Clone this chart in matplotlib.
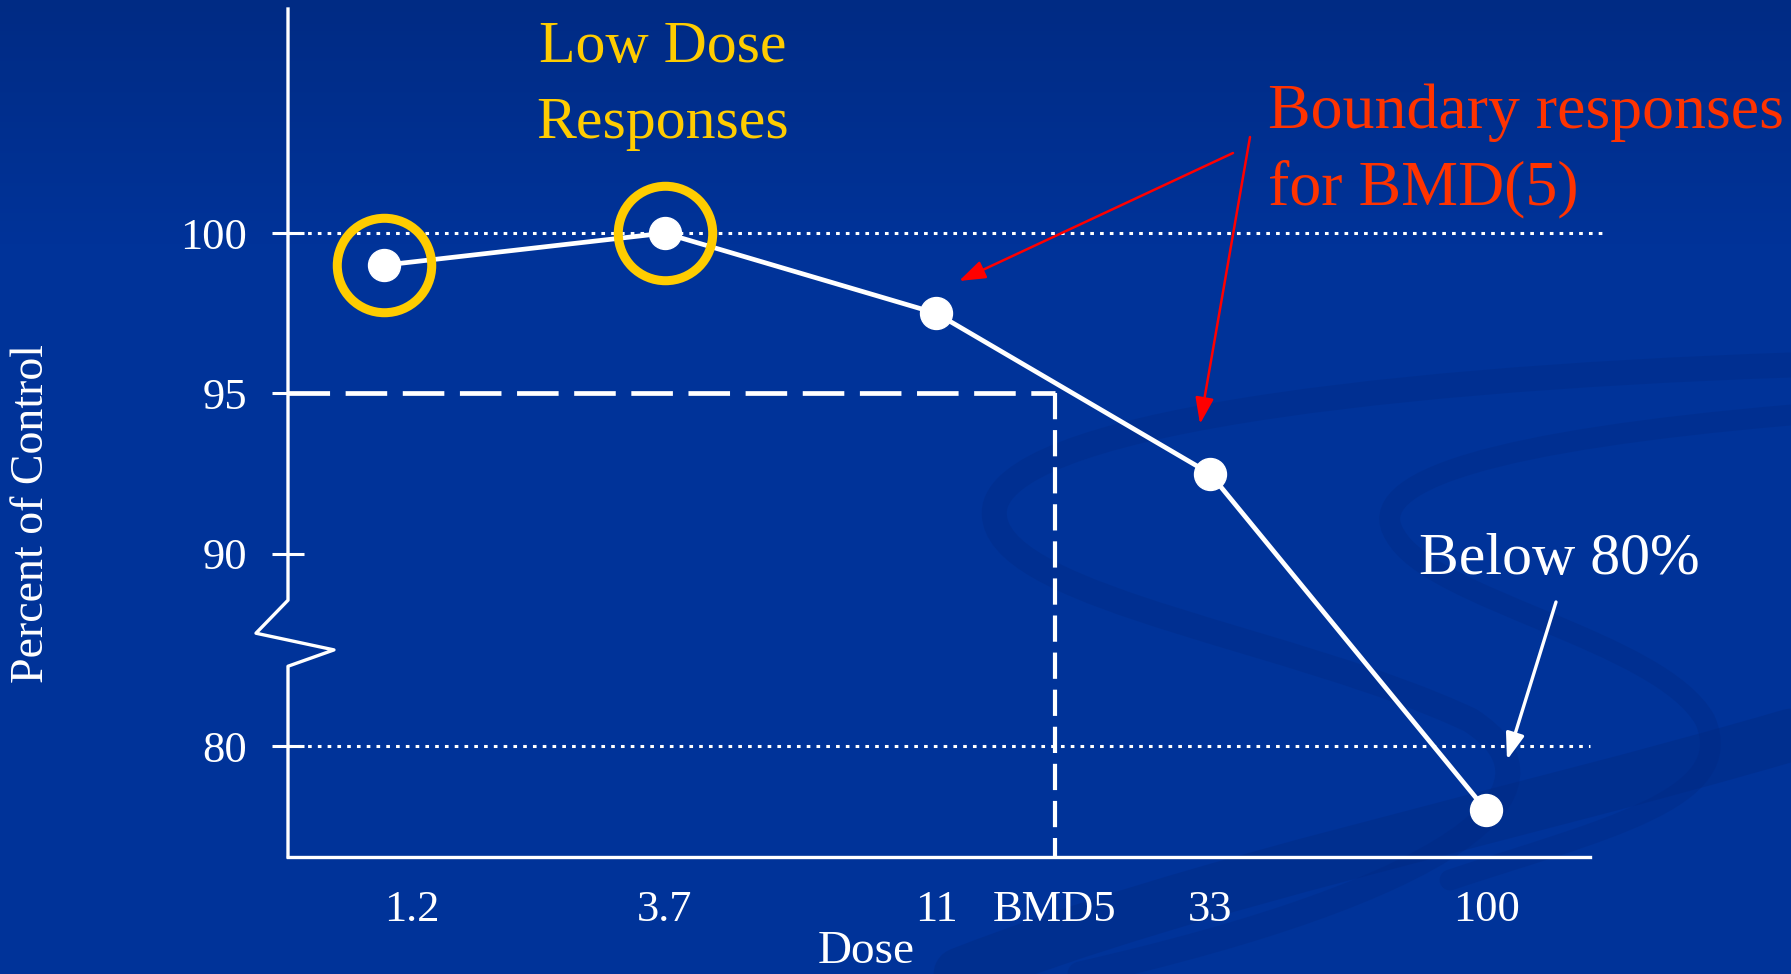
import numpy as np
import matplotlib
matplotlib.use('Agg')
import matplotlib.pyplot as plt
from matplotlib.path import Path
from matplotlib.patches import PathPatch
from matplotlib.transforms import blended_transform_factory, ScaledTranslation

# dose-response data (percent of control)
doses = [1.2, 3.7, 11, 33, 100]
dose_labels = ['1.2', '3.7', '11', '33', '100']
response = [99.0, 100.0, 97.5, 92.5, 78.0]
low_dose_idx = [0, 1]
bmd5 = 17.7
bmr_level = 95
y_ticks = [100, 95, 90, 80]
ref_lines = [100, 80]

# y axis is broken between 80 and 90: values below the break are drawn 4 units higher
BREAK_AT = 87.0
BREAK_SHIFT = 4.0


def to_axis(v):
    v = np.asarray(v, dtype=float)
    return np.where(v < BREAK_AT, v + BREAK_SHIFT, v)


W, H = 1791, 974
BG = '#003399'
SERIF = ['Liberation Serif', 'DejaVu Serif']
plt.rcParams['font.family'] = SERIF

fig = plt.figure(figsize=(W / 100, H / 100), dpi=100)

# background: slight gradient plus dark swooshes
bg = fig.add_axes([0, 0, 1, 1], zorder=0)
bg.set_xlim(0, W)
bg.set_ylim(H, 0)
bg.axis('off')
top = np.array([0x00, 0x2b, 0x84]) / 255
base = np.array([0x00, 0x33, 0x99]) / 255
t = np.clip(np.linspace(0, 1, H) / 0.25, 0, 1)[:, None]
grad = top[None, :] * (1 - t) + base[None, :] * t
bg.imshow(np.repeat(grad[:, None, :], 4, axis=1), extent=[0, W, H, 0], aspect='auto')

swooshes = [
    ([(1791, 365), (1350, 380), (975, 430), (995, 520),
      (1010, 600), (1300, 640), (1470, 720),
      (1580, 790), (1450, 890), (1080, 974)], 18, 0.3),
    ([(1791, 415), (1500, 440), (1360, 480), (1395, 535),
      (1430, 600), (1660, 640), (1705, 720),
      (1740, 800), (1600, 830), (1450, 880)], 15, 0.3),
    ([(960, 974), (1200, 880), (1500, 820), (1791, 735)], 38, 0.35),
]
for pts, lw, alpha in swooshes:
    codes = [Path.MOVETO] + [Path.CURVE4] * (len(pts) - 1)
    bg.add_patch(PathPatch(Path(pts, codes), fill=False, edgecolor='#00287f',
                           lw=lw, alpha=alpha, capstyle='round'))

ax = fig.add_axes([288 / W, 1 - 857 / H, (1590 - 288) / W, (857 - 9) / H], zorder=1)
ax.set_facecolor('none')
ax.set_xscale('log')
ax.set_xlim(0.816, 151.7)
ax.set_ylim(80.54, 106.99)
ax.minorticks_off()

for s in ['top', 'right', 'left']:
    ax.spines[s].set_visible(False)
ax.spines['bottom'].set_color('white')
ax.spines['bottom'].set_linewidth(2.4)

# y axis with a zigzag break
tb = blended_transform_factory(ax.transAxes, ax.transData)
ylo, yhi = ax.get_ylim()
ax.plot([0, 0, -0.0246, 0.0353, 0, 0],
        [yhi, 88.55, 87.52, 87.0, 86.49, ylo],
        color='white', lw=2.4, transform=tb, clip_on=False, zorder=3)

ax.set_yticks(to_axis(y_ticks))
ax.set_yticklabels([str(v) for v in y_ticks])
ax.tick_params(axis='y', direction='inout', length=23, width=2.2, colors='white',
               labelsize=32, pad=18)
ax.set_xticks(doses + [bmd5])
ax.set_xticklabels(dose_labels + ['BMD5'])
ax.tick_params(axis='x', length=0, colors='white', labelsize=32, pad=24)
# first dose label sits a little right of its point
lab0 = ax.xaxis.get_major_ticks()[0].label1
lab0.set_transform(lab0.get_transform() + ScaledTranslation(0.28, 0, fig.dpi_scale_trans))

# reference lines at 100% and 80%
ax.axhline(to_axis(ref_lines[0]), xmin=0, xmax=1.012, color='white', lw=2.2,
           dashes=(1.2, 2.0), clip_on=False, zorder=2)
ax.axhline(to_axis(ref_lines[1]), xmin=0, xmax=1.0, color='white', lw=2.2,
           dashes=(1.2, 2.0), clip_on=False, zorder=2)

# BMD5 construction lines
xlo = ax.get_xlim()[0]
ax.plot([xlo, bmd5], [bmr_level, bmr_level], color='white', lw=3.4,
        dashes=(8.8, 3.3), zorder=2)
ax.plot([bmd5, bmd5], [bmr_level, ylo], color='white', lw=3.0,
        dashes=(6.3, 2.6), zorder=2, clip_on=False)

# response curve
ax.plot(doses, to_axis(response), color='white', lw=3.4, marker='o', ms=23,
        mfc='white', mec='white', zorder=4)
ax.plot([doses[i] for i in low_dose_idx], to_axis([response[i] for i in low_dose_idx]),
        'o', mfc='none', mec='#FFCC00', ms=68, mew=6.5, zorder=5)


def fy(y):
    return 1 - y / H


fig.text(663 / W, fy(62), 'Low Dose', color='#FFCC00', fontsize=43,
         ha='center', va='baseline')
fig.text(663 / W, fy(138), 'Responses', color='#FFCC00', fontsize=43,
         ha='center', va='baseline')
fig.text(1268 / W, fy(128), 'Boundary responses', color='#FF3300', fontsize=46,
         ha='left', va='baseline')
fig.text(1268 / W, fy(204), 'for BMD(5)', color='#FF3300', fontsize=46,
         ha='left', va='baseline')
fig.text(1559 / W, fy(574), 'Below 80%', color='white', fontsize=43,
         ha='center', va='baseline')
fig.text(866 / W, fy(963), 'Dose', color='white', fontsize=34,
         ha='center', va='baseline')
fig.text(32 / W, fy(514), 'Percent of Control', color='white', fontsize=33,
         rotation=90, ha='center', va='center')

arrows = [((1233, 153), (959, 281), 'red', 1.8),
          ((1250, 137), (1200, 424), 'red', 1.8),
          ((1556, 602), (1507, 760), 'white', 2.4)]
for (x0, y0), (x1, y1), col, lw in arrows:
    ax.annotate('', xy=(x1, H - y1), xycoords='figure pixels',
                xytext=(x0, H - y0), textcoords='figure pixels',
                arrowprops=dict(arrowstyle='-|>,head_length=0.8,head_width=0.28',
                                color=col, lw=lw, shrinkA=0, shrinkB=0,
                                mutation_scale=20),
                annotation_clip=False, zorder=6)

fig.savefig('out.png', dpi=100, facecolor=BG)
